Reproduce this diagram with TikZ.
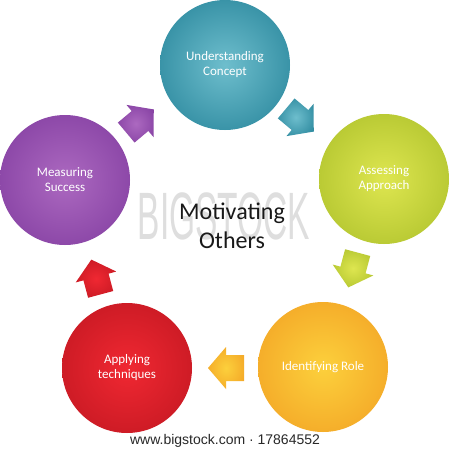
\documentclass[tikz,border=0pt]{standalone}
\usepackage{fontspec}
\setmainfont{Carlito}
\newfontfamily\arialfont{Liberation Sans}
\colorlet{rin}{white}
\colorlet{rout}{black}
\pgfdeclareradialshading[rin,rout]{softball}{\pgfpointorigin}{color(0bp)=(rin); color(50bp)=(rout)}
\definecolor{tealIn}{RGB}{110,190,205}
\definecolor{tealOut}{RGB}{5,105,130}
\definecolor{greenIn}{RGB}{222,230,80}
\definecolor{greenOut}{RGB}{150,175,25}
\definecolor{orangeIn}{RGB}{252,208,60}
\definecolor{orangeOut}{RGB}{238,140,25}
\definecolor{redIn}{RGB}{240,40,50}
\definecolor{redOut}{RGB}{172,15,25}
\definecolor{purpIn}{RGB}{172,105,192}
\definecolor{purpOut}{RGB}{110,40,145}
\definecolor{wmark}{RGB}{222,222,222}
\tikzset{
  ballc/.style 2 args={circle, minimum size=130pt, inner sep=0pt, shading=softball,
    /utils/exec={\colorlet{rin}{#1}\colorlet{rout}{#2}},
    text=white, align=center, font=\fontsize{13}{15}\selectfont},
  arrowc/.style 2 args={shading=softball, /utils/exec={\colorlet{rin}{#1}\colorlet{rout}{#2}}},
}
\newcommand\blockarrow[5]{%
  \begin{scope}[shift={(#1,#2)}, rotate=#3]
    \shade[arrowc={#4}{#5}] (-18,-13) -- (0,-13) -- (0,-21) -- (18,0) -- (0,21) -- (0,13) -- (-18,13) -- cycle;
  \end{scope}}
\begin{document}
\begin{tikzpicture}[x=1pt,y=-1pt]
\useasboundingbox[fill=white] (0,0) rectangle (450,453);
% watermark
\node[text=wmark, font=\arialfont\fontsize{67}{67}\selectfont, xscale=0.5] (wm) at (224,216) {BIGSTOCK};
% circles
\node[ballc={tealIn}{tealOut}] (c1) at (225,65) {Understanding\\Concept};
\node[ballc={greenIn}{greenOut}] (c2) at (384,179) {Assessing\\Approach};
\node[ballc={orangeIn}{orangeOut}] (c3) at (323,367) {Identifying Role};
\node[ballc={redIn}{redOut}] (c4) at (127,368) {Applying\\techniques};
\node[ballc={purpIn}{purpOut}] (c5) at (65,180) {Measuring\\Success};
% arrows
\blockarrow{140}{121}{40}{purpIn}{purpOut}
\blockarrow{300}{120}{-40}{tealIn}{tealOut}
\blockarrow{353}{270}{-105}{greenIn}{greenOut}
\blockarrow{226}{368}{180}{orangeIn}{orangeOut}
\blockarrow{96}{277}{105}{redIn}{redOut}
% centre title
\node[align=center, text={rgb,255:red,25;green,25;blue,25}, font=\fontsize{24}{29}\selectfont] (title) at (232,226) {Motivating\\Others};
% credit
\node[text={rgb,255:red,40;green,40;blue,40}, font=\arialfont\fontsize{14}{16}\selectfont] (credit) at (225,441) {www.bigstock.com · 17864552};
\end{tikzpicture}
\end{document}
